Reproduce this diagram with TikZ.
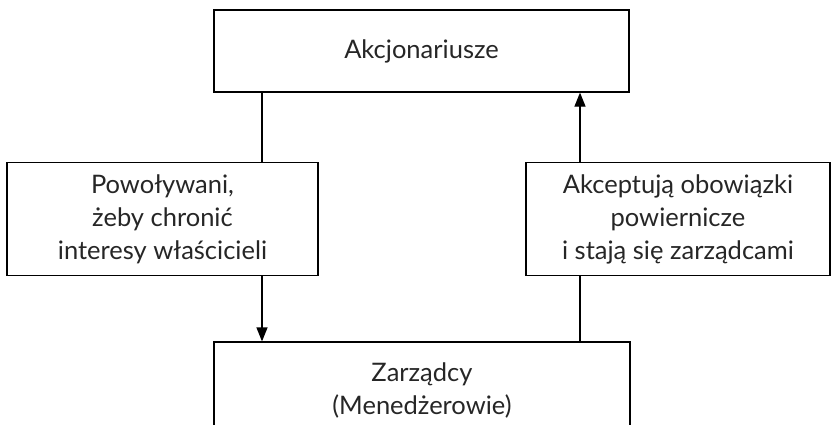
\documentclass[tikz,border=0pt]{standalone}
\usepackage{fontspec}
\setmainfont{Lato}
\usetikzlibrary{arrows.meta, positioning, calc}

\begin{document}
\begin{tikzpicture}[x=1pt, y=-1pt, line width=1.2pt,
    every node/.style={rectangle, draw, align=center, inner sep=0pt, text=black!85,
        font=\fontsize{25.5}{33}\selectfont},
    link/.style={draw, -{Triangle[length=14pt, width=11pt]}}]
    \useasboundingbox (0,0) rectangle (831,424);
    \node[minimum width=415pt, minimum height=82pt] (owners) at (421.5,51) {Akcjonariusze};
    \node[minimum width=311pt, minimum height=113pt] (appointed) at (162.5,219)
        {Powoływani,\\żeby chronić\\interesy właścicieli};
    \node[minimum width=304pt, minimum height=113pt] (accept) at (678,219)
        {Akceptują obowiązki\\powiernicze\\i stają się zarządcami};
    \node[minimum width=416pt, minimum height=96pt] (managers) at (422,390)
        {Zarządcy\\(Menedżerowie)};
    \coordinate (lx) at (262,0);
    \coordinate (rx) at (580,0);
    % left side, going down
    \draw (owners.south -| lx) -- (appointed.north -| lx);
    \draw[link] (appointed.south -| lx) -- (managers.north -| lx);
    % right side, going up
    \draw (managers.north -| rx) -- (accept.south -| rx);
    \draw[link] (accept.north -| rx) -- (owners.south -| rx);
\end{tikzpicture}
\end{document}
